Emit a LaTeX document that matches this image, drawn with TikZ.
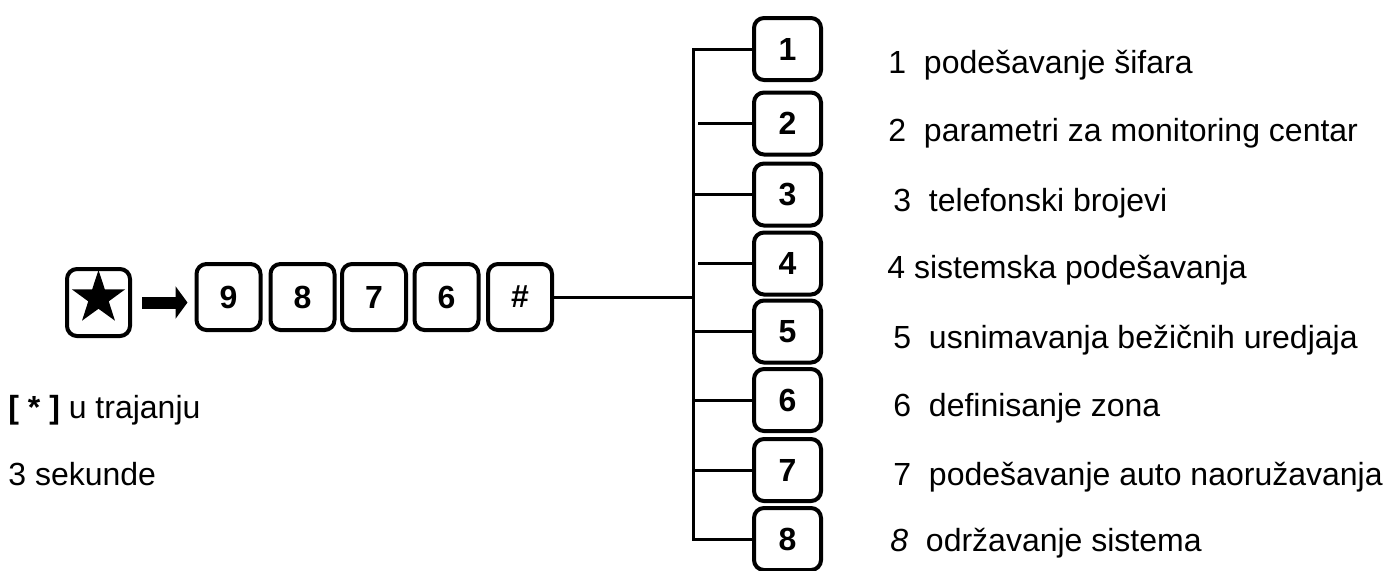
\documentclass[tikz,border=0pt]{standalone}
\usepackage{fontspec}
\setmainfont{Liberation Sans}
\usetikzlibrary{arrows.meta,shapes.geometric,calc}

\begin{document}
\begin{tikzpicture}[x=0.5pt, y=-0.5pt,
  key/.style={draw, line width=2pt, rounded corners=5pt, minimum width=32pt,
    minimum height=33pt, inner sep=0pt, font=\fontsize{16}{19}\selectfont\bfseries},
  menukey/.style={key, minimum width=33.5pt, minimum height=31pt},
  wire/.style={line width=1.5pt},
  txt/.style={anchor=base west, inner sep=0pt, font=\fontsize{16}{19}\selectfont}]
  \useasboundingbox (0,0) rectangle (1385,570);

  % Star key
  \node at (98.5,302.5)[key, minimum width=31.5pt, minimum height=33.5pt] (kstar) {};
  \node at (98.5,298)[star, star points=5, star point ratio=2.6, fill,
    minimum size=28pt, inner sep=0pt] (starsym) {};

  % Code keys
  \node at (228.5,297)[key] (k9) {9};
  \node at (302.5,297)[key] (k8) {8};
  \node at (374,297)[key] (k7) {7};
  \node at (446.5,297)[key] (k6) {6};
  \node at (520,297)[key] (khash) {\#};

  % Arrow
  \draw[line width=6pt, -{Triangle[length=6pt,width=16pt]}, shorten <=5pt, shorten >=3.5pt]
    (kstar.east) -- (kstar.east -| k9.west);

  % Menu keys
  \foreach \i/\y in {1/49,2/123.5,3/194.5,4/263.5,5/331.5,6/400,7/470,8/539}
    \node at (787.5,\y)[menukey] (m\i) {\i};

  % Bus
  \coordinate (bus) at (693,297);
  \draw[wire] (khash) -- (bus);
  \draw[wire] (m1.west) -| (bus) |- (m8.west);
  \foreach \i in {3,5,6,7} \draw[wire] (bus |- m\i.west) -- (m\i.west);
  \foreach \i in {2,4} \draw[wire] ($(bus |- m\i.west)+(5,0)$) -- (m\i.west);

  % Menu texts
  \node at (888,73)[txt] (t1) {1~~podešavanje šifara};
  \node at (888,141)[txt] (t2) {2~~parametri za monitoring centar};
  \node at (893,211)[txt] (t3) {3~~telefonski brojevi};
  \node at (887,278)[txt] (t4) {4 sistemska podešavanja};
  \node at (893,348)[txt] (t5) {5~~usnimavanja bežičnih uredjaja};
  \node at (893,416)[txt] (t6) {6~~definisanje zona};
  \node at (893,485)[txt] (t7) {7~~podešavanje auto naoružavanja};
  \node at (890,551)[txt] (t8) {\textit{8}~~održavanje sistema};

  % Hold note
  \node at (8,418)[txt] (hold) {\textbf{[ * ]} u trajanju};
  \node at (8,485)[txt] (secs) {3 sekunde};
\end{tikzpicture}
\end{document}
